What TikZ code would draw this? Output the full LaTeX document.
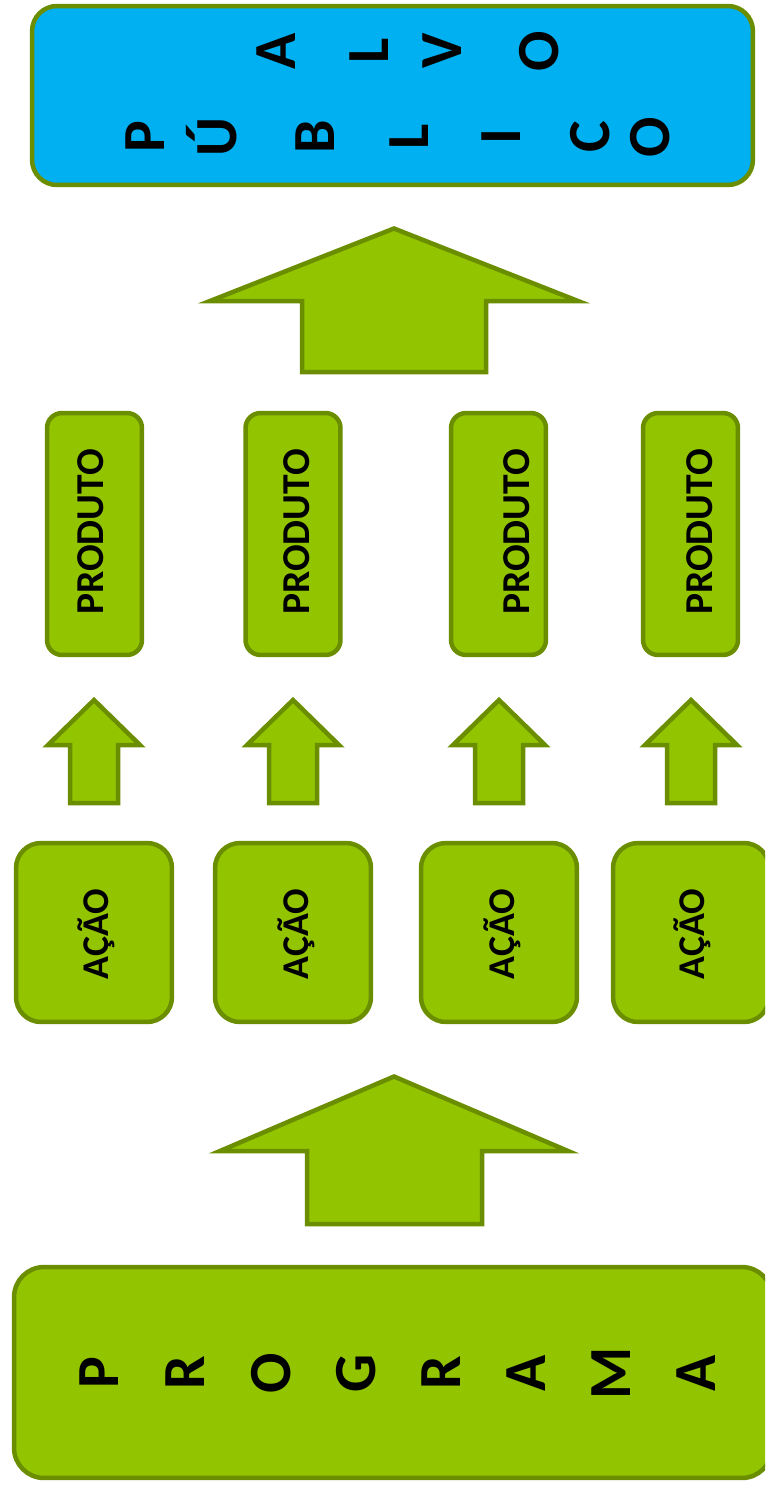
\documentclass[tikz,border=0pt]{standalone}
\usepackage{fontspec}
\setmainfont{Carlito}
\definecolor{alvoblue}{RGB}{0,176,240}
\definecolor{leafgreen}{RGB}{146,196,0}
\definecolor{olivegreen}{RGB}{107,142,0}

\begin{document}
\begin{tikzpicture}[x=0.02cm, y=-0.02cm,
	greenbox/.style={draw=olivegreen, fill=leafgreen, line width=0.09cm},
	bluebox/.style={greenbox, fill=alvoblue},
	blockarrow/.style={greenbox, line join=miter},
	letter/.style={rotate=90, inner sep=0, text height=0.76cm, text depth=0pt, font=\fontsize{34}{34}\selectfont\bfseries},
	boxtext/.style={rotate=90, inner sep=0, font=\fontsize{22.5}{22.5}\selectfont\bfseries},
	acaotext/.style={boxtext, font=\fontsize{21.5}{21.5}\selectfont\bfseries}]
	\clip (0, 0) rectangle (765, 1485);
	% publico alvo
	\node[bluebox, minimum width=14.42cm, minimum height=3.58cm, rounded corners=0.5cm] (alvo) at (392.5, 95.5) {};
	\node[letter] (alvoA) at (276.5, 51) {A};
	\node[letter] (alvoL) at (369.5, 51) {L};
	\node[letter] (alvoV) at (442.5, 51) {V};
	\node[letter] (alvoO) at (539.5, 51) {O};
	\node[letter] (pubP) at (145.5, 137) {P};
	\node[letter] (pubU) at (218, 137) {Ú};
	\node[letter] (pubB) at (316, 137) {B};
	\node[letter] (pubL) at (409, 137) {L};
	\node[letter] (pubI) at (501, 137) {I};
	\node[letter] (pubC) at (590.5, 137) {C};
	\node[letter] (pubO) at (650, 137) {O};
	\draw[blockarrow] (394, 228.5) -- (578, 301) -- (486, 301) -- (486, 372) -- (302, 372) -- (302, 301) -- (210, 301) -- cycle;
	% produtos
	\node[greenbox, minimum width=1.9cm, minimum height=4.84cm, rounded corners=0.3cm] (prod1) at (94.5, 534) {};
	\node[greenbox, minimum width=1.9cm, minimum height=4.84cm, rounded corners=0.3cm] (prod2) at (293, 534) {};
	\node[greenbox, minimum width=1.9cm, minimum height=4.84cm, rounded corners=0.3cm] (prod3) at (498.5, 534) {};
	\node[greenbox, minimum width=1.9cm, minimum height=4.84cm, rounded corners=0.3cm] (prod4) at (690.5, 534) {};
	\node[boxtext] (prodtext1) at (90.5, 532) {PRODUTO};
	\node[boxtext] (prodtext2) at (296.5, 532) {PRODUTO};
	\node[boxtext] (prodtext3) at (516.5, 532) {PRODUTO};
	\node[boxtext] (prodtext4) at (700, 532) {PRODUTO};
	\draw[blockarrow] (94, 700) -- (140, 745) -- (118, 745) -- (118, 803) -- (70, 803) -- (70, 745) -- (48, 745) -- cycle;
	\draw[blockarrow] (293, 700) -- (339, 745) -- (317, 745) -- (317, 803) -- (269, 803) -- (269, 745) -- (247, 745) -- cycle;
	\draw[blockarrow] (499, 700) -- (545, 745) -- (523, 745) -- (523, 803) -- (475, 803) -- (475, 745) -- (453, 745) -- cycle;
	\draw[blockarrow] (691, 700) -- (737, 745) -- (715, 745) -- (715, 803) -- (667, 803) -- (667, 745) -- (645, 745) -- cycle;
	% acoes
	\node[greenbox, minimum width=3.12cm, minimum height=3.58cm, rounded corners=0.5cm] (acao1) at (94, 932.5) {};
	\node[greenbox, minimum width=3.12cm, minimum height=3.58cm, rounded corners=0.5cm] (acao2) at (293, 932.5) {};
	\node[greenbox, minimum width=3.12cm, minimum height=3.58cm, rounded corners=0.5cm] (acao3) at (499, 932.5) {};
	\node[greenbox, minimum width=3.12cm, minimum height=3.58cm, rounded corners=0.5cm] (acao4) at (691, 932.5) {};
	\node[acaotext] (acaotext1) at (96, 934) {AÇÃO};
	\node[acaotext] (acaotext2) at (296, 934) {AÇÃO};
	\node[acaotext] (acaotext3) at (502, 934) {AÇÃO};
	\node[acaotext] (acaotext4) at (692, 934) {AÇÃO};
	\draw[blockarrow] (394, 1076.5) -- (568, 1151) -- (482, 1151) -- (482, 1224) -- (307, 1224) -- (307, 1151) -- (220, 1151) -- cycle;
	% programa
	\node[greenbox, minimum width=15.16cm, minimum height=4.22cm, rounded corners=0.6cm] (programa) at (393, 1372.5) {};
	\node[letter] (progP) at (99.5, 1373) {P};
	\node[letter] (progR) at (185.5, 1373) {R};
	\node[letter] (progO) at (271.5, 1373) {O};
	\node[letter] (progG) at (356.5, 1373) {G};
	\node[letter] (progRb) at (441.5, 1373) {R};
	\node[letter] (progA) at (526, 1373) {A};
	\node[letter] (progM) at (611.5, 1373) {M};
	\node[letter] (progAb) at (696, 1373) {A};
\end{tikzpicture}
\end{document}
